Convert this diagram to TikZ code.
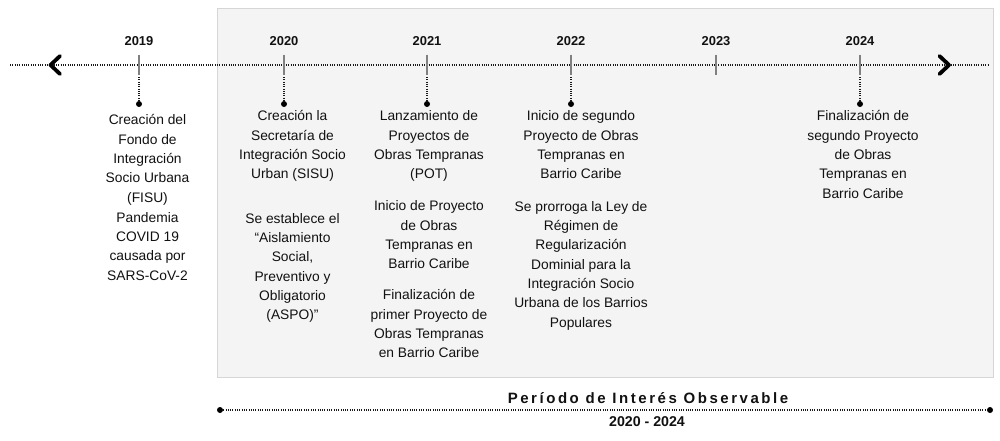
\documentclass[tikz,border=0pt]{standalone}
\usepackage{fontspec}
\setmainfont{Liberation Sans}
\usetikzlibrary{calc}
\definecolor{boxfill}{HTML}{F4F4F4}
\definecolor{boxline}{HTML}{D6D6D6}
\definecolor{tickc}{HTML}{808080}
\definecolor{txt}{HTML}{111111}
\begin{document}
\begin{tikzpicture}[x=1pt,y=-1pt,
 yearlbl/.style={font=\fontsize{12.9}{15}\selectfont\bfseries, text=txt, inner sep=0},
 evt/.style={font=\fontsize{13.8}{19.3}\selectfont, text=txt, align=center, anchor=north, inner sep=0, execute at begin node=\strut},
 dotline/.style={draw=black!90, line width=1.1pt, dash pattern=on 1pt off 1.3pt},
 evdot/.style={circle, fill=black, inner sep=0, minimum size=6pt},
 tickmark/.style={draw=tickc, line width=1.6pt},
 chev/.style={draw=black, line width=3.8pt, line cap=round, line join=round},
 titlelbl/.style={font=\fontsize{15}{17}\selectfont\bfseries\addfontfeature{LetterSpace=17}, text=txt, inner sep=0},
 rangelbl/.style={font=\fontsize{14.2}{16}\selectfont\bfseries, text=txt, inner sep=0}]

\useasboundingbox (0,0) rectangle (1000,440);

% observation period box
\node[draw=boxline, fill=boxfill, line width=1pt, minimum width=776pt, minimum height=369pt, anchor=north west, inner sep=0] (period) at (217,7.5) {};

% main timeline
\coordinate (tlL) at (10,65);
\coordinate (tlR) at (988,65);
\draw[dotline] (tlL) -- (tlR);
\draw[chev] (60,56) -- (50.5,65) -- (60,74);
\draw[chev] (939.5,56) -- (949,65) -- (939.5,74);

% years, ticks, connectors
\foreach \yr/\xx in {2019/139, 2020/284, 2021/427, 2022/571, 2023/716, 2024/860}{
  \node[yearlbl] (y\yr) at (\xx,41) {\yr};
  \draw[tickmark] (\xx,54.5) -- (\xx,74.5);
  \coordinate (tb\yr) at (\xx,77);
}
\foreach \yr/\xx in {2019/139, 2020/284, 2021/427, 2022/571, 2024/860}{
  \node[evdot] (d\yr) at (\xx,104) {};
  \draw[dotline] (tb\yr) -- (d\yr.north);
}

% events
\node[evt] (e19a) at (147.5,114.5) {Creación del\\Fondo de\\Integración\\Socio Urbana\\(FISU)};
\node[evt] (e19b) at (147.5,212) {Pandemia\\COVID 19\\causada por\\SARS-CoV-2};

\node[evt] (e20a) at (292.5,110.5) {Creación la\\Secretaría de\\Integración Socio\\Urban (SISU)};
\node[evt] (e20b) at (292.5,213) {Se establece el\\“Aislamiento\\Social,\\Preventivo y\\Obligatorio\\(ASPO)”};

\node[evt] (e21a) at (429,110.5) {Lanzamiento de\\Proyectos de\\Obras Tempranas\\(POT)};
\node[evt] (e21b) at (429,200.5) {Inicio de Proyecto\\de Obras\\Tempranas en\\Barrio Caribe};
\node[evt] (e21c) at (429,289.5) {Finalización de\\primer Proyecto de\\Obras Tempranas\\en Barrio Caribe};

\node[evt] (e22a) at (581,110.5) {Inicio de segundo\\Proyecto de Obras\\Tempranas en\\Barrio Caribe};
\node[evt] (e22b) at (581,201) {Se prorroga la Ley de\\Régimen de\\Regularización\\Dominial para la\\Integración Socio\\Urbana de los Barrios\\Populares};

\node[evt] (e24a) at (863,110.5) {Finalización de\\segundo Proyecto\\de Obras\\Tempranas en\\Barrio Caribe};

% period bar
\node[evdot] (pL) at (220,410) {};
\node[evdot] (pR) at (990,410) {};
\draw[dotline] (pL) -- (pR);
\node[titlelbl] (ptitle) at (648,398) {Período de Interés Observable};
\node[rangelbl] (prange) at (647,421.5) {2020 - 2024};
\end{tikzpicture}
\end{document}
